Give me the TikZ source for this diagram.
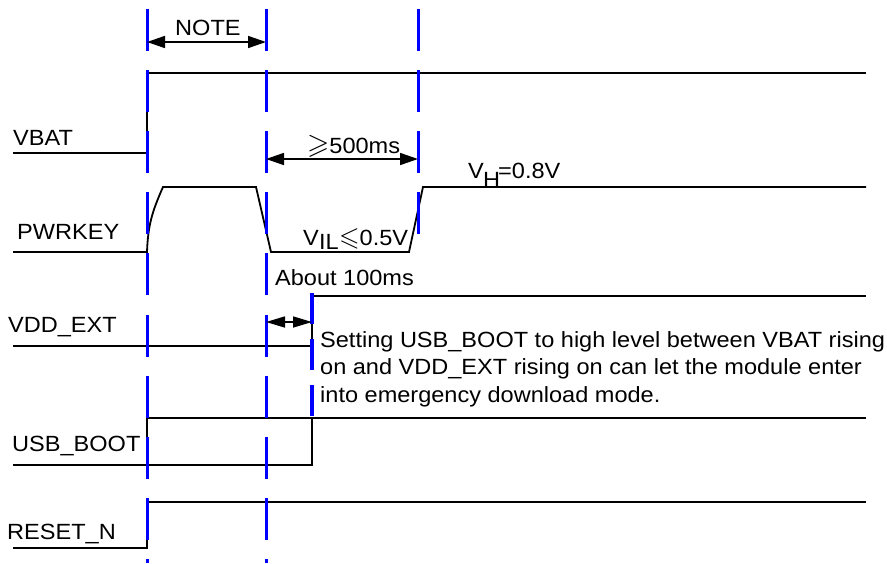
\documentclass[tikz,border=0pt]{standalone}
\usepackage{amssymb}
\usepackage{graphicx}
\usepackage{fontspec}
\setmainfont[FakeStretch=1.07]{Liberation Sans}
\usetikzlibrary{arrows.meta}
\begin{document}
\begin{tikzpicture}[x=1pt,y=-1pt,
  sig/.style={line width=1.8pt, black, line join=miter},
  guide/.style={line width=3pt, blue, dash pattern=on 42pt off 19.1pt},
  guideb/.style={line width=4pt, blue, dash pattern=on 31pt off 15pt},
  lbl/.style={anchor=base west, inner sep=0pt, font=\fontsize{22}{27}\selectfont},
  dimarrow/.style={line width=1.6pt, {Triangle[length=18pt,width=12pt]}-{Triangle[length=18pt,width=12pt]}},
  dimsmall/.style={line width=1.6pt, {Triangle[length=19pt,width=11pt]}-{Triangle[length=19pt,width=11pt]}}
]
\useasboundingbox (0,0) rectangle (887,563);

% signal labels
\node[lbl] (lvbat) at (13,145) {VBAT};
\node[lbl] (lpwr) at (17,239) {PWRKEY};
\node[lbl] (lvdd) at (8,332) {VDD\_EXT};
\node[lbl] (lusb) at (12,451) {USB\_BOOT};
\node[lbl] (lrst) at (7,539) {RESET\_N};

% VBAT
\coordinate (vb0) at (13,153);
\coordinate (vb1) at (147,153);
\coordinate (vb2) at (147,73);
\coordinate (vb3) at (866,73);
\draw[sig] (vb0) -- (vb1) -- (vb2) -- (vb3);

% PWRKEY
\coordinate (pk0) at (13,252);
\coordinate (pk1) at (147,252);
\coordinate (pk2) at (163,187);
\coordinate (pk3) at (256,187);
\coordinate (pk4) at (271,252);
\coordinate (pk5) at (409,252);
\coordinate (pk6) at (423,187);
\coordinate (pk7) at (866,187);
\draw[sig] (pk0) -- (pk1) .. controls (148,225) and (152,212) .. (pk2) -- (pk3) -- (pk4) -- (pk5) -- (pk6) -- (pk7);

% VDD_EXT
\coordinate (vd0) at (13,346);
\coordinate (vd1) at (312,346);
\coordinate (vd2) at (312,296);
\coordinate (vd3) at (866,296);
\draw[sig] (vd0) -- (vd1) -- (vd2) -- (vd3);

% USB_BOOT
\coordinate (ub0) at (13,465);
\coordinate (ub1) at (312,465);
\coordinate (ub2) at (312,418);
\coordinate (ub3) at (147,465);
\coordinate (ub4) at (147,418);
\coordinate (ub5) at (866,418);
\draw[sig] (ub0) -- (ub1) -- (ub2);
\draw[sig] (ub3) -- (ub4) -- (ub5);

% RESET_N
\coordinate (rs0) at (13,548);
\coordinate (rs1) at (147,548);
\coordinate (rs2) at (147,502);
\coordinate (rs3) at (866,502);
\draw[sig] (rs0) -- (rs1) -- (rs2) -- (rs3);

% guides
\coordinate (g1a) at (147,9);  \coordinate (g1b) at (147,563);
\coordinate (g2a) at (266,9);  \coordinate (g2b) at (266,563);
\coordinate (g3a) at (418,9);  \coordinate (g3b) at (418,235);
\coordinate (g4a) at (312,293); \coordinate (g4b) at (312,416);
\draw[guide] (g1a) -- (g1b);
\draw[guide] (g2a) -- (g2b);
\draw[guide] (g3a) -- (g3b);
\draw[guideb] (g4a) -- (g4b);

% dimension arrows
\coordinate (na) at (147,42); \coordinate (nb) at (266,42);
\draw[dimarrow] (na) -- (nb);
\node[lbl] (lnote) at (175,35) {NOTE};

\coordinate (fa) at (266,159); \coordinate (fb) at (418,159);
\draw[dimarrow] (fa) -- (fb);
\node[lbl] (l500) at (307,153) {\scalebox{1.3}{$\geqslant$}500ms};

\coordinate (ha) at (266,322); \coordinate (hb) at (312,322);
\draw[dimsmall] (ha) -- (hb);
\node[lbl] (l100) at (275,285) {About 100ms};

% level labels
\node[lbl] (lvil) at (303,245) {V};
\node[lbl] (lvil2) at (319,249) {IL};
\node[lbl] (lvil3) at (339,245) {\scalebox{1.2}{$\leqslant$}0.5V};

\node[lbl] (lvh) at (468,178) {V};
\node[lbl] (lvh2) at (483,187) {H};
\node[lbl] (lvh3) at (498,178) {=0.8V};

% note
\node[lbl] (n1) at (320,347) {Setting USB\_BOOT to high level between VBAT rising};
\node[lbl] (n2) at (320,374) {on and VDD\_EXT rising on can let the module enter};
\node[lbl] (n3) at (320,402) {into emergency download mode.};
\end{tikzpicture}
\end{document}
